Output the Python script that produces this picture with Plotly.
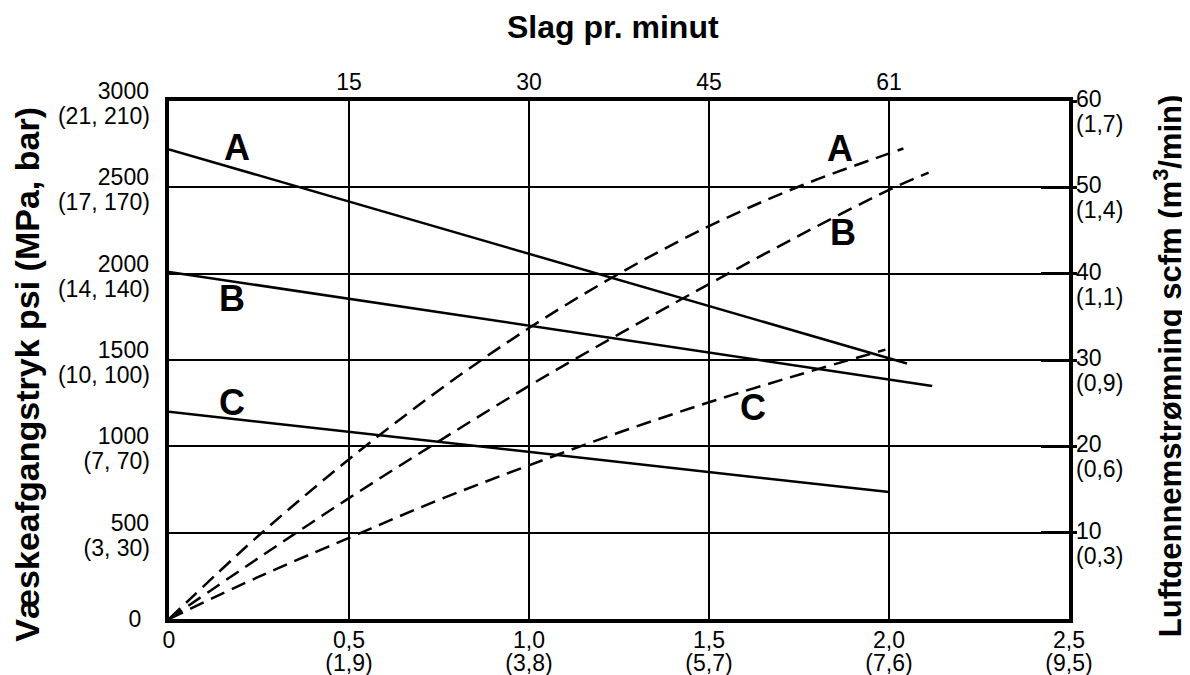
import plotly.graph_objects as go

# bottom axis: fluid flow gpm (lpm); top axis: strokes per minute
flow_ticks = [0, 0.5, 1.0, 1.5, 2.0, 2.5]
flow_gpm = ["0", "0,5", "1,0", "1,5", "2,0", "2,5"]
flow_lpm = ["", "(1,9)", "(3,8)", "(5,7)", "(7,6)", "(9,5)"]
stroke_ticks = [0.5, 1.0, 1.5, 2.0]
stroke_text = ["15", "30", "45", "61"]

# left axis: fluid outlet pressure
psi_ticks = [0, 500, 1000, 1500, 2000, 2500, 3000]
psi_zero = ["0", "", "", "", "", "", ""]
psi_text = ["", "500", "1000", "1500", "2000", "2500", "3000"]
mpa_bar_text = ["", "(3, 30)", "(7, 70)", "(10, 100)", "(14, 140)", "(17, 170)", "(21, 210)"]

# right axis: air consumption
scfm_ticks = [10, 20, 30, 40, 50, 60]
scfm_text = ["10", "20", "30", "40", "50", "60"]
m3min_text = ["(0,3)", "(0,6)", "(0,9)", "(1,1)", "(1,4)", "(1,7)"]

# pressure curves (solid)
press_a_x = [0, 2.05]
press_a_y = [2720, 1480]
press_b_x = [0, 2.12]
press_b_y = [2010, 1350]
press_c_x = [0, 2.0]
press_c_y = [1200, 735]

# air consumption curves (dashed)
air_a_x = [0, 0.25, 0.5, 0.75, 1.0, 1.25, 1.5, 1.75, 2.04]
air_a_y = [0, 9.7, 18.5, 26.5, 33.7, 40.0, 45.5, 50.1, 54.5]
air_b_x = [0, 0.25, 0.5, 0.75, 1.0, 1.25, 1.5, 1.75, 2.0, 2.11]
air_b_y = [0, 7.1, 14.0, 20.6, 27.0, 33.0, 38.8, 44.4, 49.7, 51.7]
air_c_x = [0, 0.25, 0.5, 0.75, 1.0, 1.25, 1.5, 1.75, 1.99]
air_c_y = [0, 4.9, 9.4, 13.8, 17.8, 21.6, 25.1, 28.3, 31.2]

# curve letters (x, psi)
letters = ["A", "B", "C", "A", "B", "C"]
letter_x = [0.19, 0.175, 0.175, 1.864, 1.872, 1.622]
letter_y = [2728, 1855, 1254, 2723, 2237, 1225]

FONT = "Liberation Sans, Arial, sans-serif"
TICK = 23

fig = go.Figure()

solid = dict(color="black", width=2.5)
for xs, ys in [(press_a_x, press_a_y), (press_b_x, press_b_y), (press_c_x, press_c_y)]:
    fig.add_trace(go.Scatter(x=xs, y=ys, mode="lines", line=solid,
                             xaxis="x", yaxis="y", hoverinfo="skip"))

dashed = dict(color="black", width=2.5, dash="15px,8px", shape="spline")
for xs, ys in [(air_a_x, air_a_y), (air_b_x, air_b_y), (air_c_x, air_c_y)]:
    fig.add_trace(go.Scatter(x=xs, y=ys, mode="lines", line=dashed,
                             xaxis="x", yaxis="y2", hoverinfo="skip"))

# invisible helpers so the extra axes get drawn
for xa, ya in [("x2", "y"), ("x3", "y"), ("x", "y3"), ("x", "y4"), ("x", "y5"), ("x", "y6")]:
    fig.add_trace(go.Scatter(x=[0], y=[0], mode="markers", marker=dict(opacity=0),
                             xaxis=xa, yaxis=ya, hoverinfo="skip"))

for t, lx, ly in zip(letters, letter_x, letter_y):
    fig.add_annotation(x=lx, y=ly, xref="x", yref="y", text="<b>%s</b>" % t,
                       showarrow=False, font=dict(size=36, color="black", family=FONT))

# axis titles
fig.add_annotation(x=-0.158, y=0.473, xref="paper", yref="paper", textangle=-90,
                   text="<b>Væskeafgangstryk psi (MPa, bar)</b>", showarrow=False,
                   xanchor="center", yanchor="middle", font=dict(size=34, family=FONT))
fig.add_annotation(x=1.11, y=0.488, xref="paper", yref="paper", textangle=-90,
                   text="<b>Luftgennemstrømning scfm (m<sup>3</sup>/min)</b>", showarrow=False,
                   xanchor="center", yanchor="middle", font=dict(size=31, family=FONT))
fig.add_annotation(x=0.493, y=1.143, xref="paper", yref="paper",
                   text="<b>Slag pr. minut</b>", showarrow=False,
                   xanchor="center", yanchor="middle", font=dict(size=32, family=FONT))

no_auto = dict(automargin=False, zeroline=False, ticks="", showgrid=False)

# the page puts the figure 8px in from the top-left corner
fig.update_layout(
    width=1182, height=667,
    margin=dict(l=161, r=121, t=93, b=56),
    paper_bgcolor="white", plot_bgcolor="white",
    showlegend=False,
    font=dict(family=FONT, color="black", size=TICK),
    xaxis=dict(no_auto, range=[0, 2.5], tickvals=flow_ticks, ticktext=flow_gpm,
               showgrid=True, gridcolor="black", gridwidth=1.5,
               showline=True, linecolor="black", linewidth=4, mirror=True,
               ticklabelstandoff=-3),
    xaxis3=dict(no_auto, range=[0, 2.5], overlaying="x", side="bottom", anchor="y",
                tickvals=flow_ticks, ticktext=flow_lpm, ticklabelstandoff=28),
    xaxis2=dict(no_auto, range=[0, 2.5], overlaying="x", side="top", anchor="y",
                tickvals=stroke_ticks, ticktext=stroke_text, ticklabelstandoff=5),
    yaxis=dict(no_auto, range=[0, 3000], tickvals=psi_ticks, ticktext=psi_zero,
               showgrid=True, gridcolor="black", gridwidth=1.5,
               showline=True, linecolor="black", linewidth=4, mirror=True,
               ticklabelstandoff=19),
    yaxis4=dict(no_auto, range=[0, 3000], overlaying="y", side="left", anchor="x",
                tickvals=psi_ticks, ticktext=psi_text,
                ticklabelstandoff=19, ticklabelshift=-10),
    yaxis6=dict(no_auto, range=[0, 3000], overlaying="y", side="left", anchor="x",
                tickvals=psi_ticks, ticktext=mpa_bar_text,
                ticklabelstandoff=18, ticklabelshift=15),
    yaxis2=dict(no_auto, range=[0, 60], overlaying="y", side="right", anchor="x",
                tickvals=scfm_ticks, ticktext=scfm_text,
                ticks="inside", ticklen=28, tickwidth=3, tickcolor="black",
                ticklabelstandoff=6, ticklabelshift=-2),
    yaxis5=dict(no_auto, range=[0, 60], overlaying="y", side="right", anchor="x",
                tickvals=scfm_ticks, ticktext=m3min_text,
                ticklabelstandoff=6, ticklabelshift=23),
    yaxis3=dict(no_auto, range=[0, 60], overlaying="y", side="right", anchor="x",
                tickvals=scfm_ticks, showticklabels=False,
                ticks="outside", ticklen=7, tickwidth=3, tickcolor="black"),
)

fig.write_html("out.html")
